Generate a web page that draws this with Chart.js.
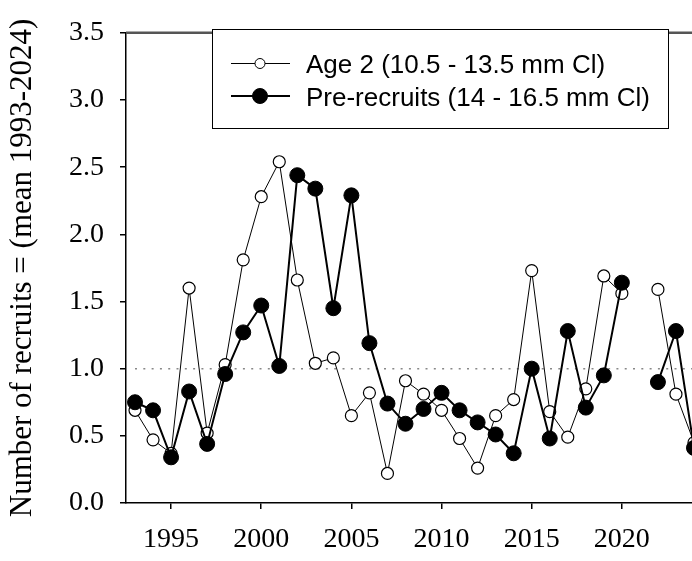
<!DOCTYPE html>
<html>
<head>
<meta charset="utf-8">
<script src="https://cdn.jsdelivr.net/npm/chart.js@4.4.1/dist/chart.umd.min.js"></script>
<style>
  html, body { margin: 0; padding: 0; background: #fff; overflow: hidden; }
  #wrap { width: 692px; height: 561px; overflow: hidden; position: relative; }
  #box { width: 720px; height: 561px; }
</style>
</head>
<body>
<div id="wrap"><div id="box"><canvas id="chart"></canvas></div></div>
<script>
// years 1993-2024, 2021 missing in both series
const years = [1993, 1994, 1995, 1996, 1997, 1998, 1999, 2000, 2001, 2002, 2003,
  2004, 2005, 2006, 2007, 2008, 2009, 2010, 2011, 2012, 2013, 2014, 2015, 2016,
  2017, 2018, 2019, 2020, 2021, 2022, 2023, 2024];

const age2 = [0.69, 0.47, 0.37, 1.60, 0.52, 1.03, 1.81, 2.28, 2.54, 1.66, 1.04,
  1.08, 0.65, 0.82, 0.22, 0.91, 0.81, 0.69, 0.48, 0.26, 0.65, 0.77, 1.73, 0.68,
  0.49, 0.85, 1.69, 1.56, null, 1.59, 0.81, 0.45];

const preRecruits = [0.75, 0.69, 0.34, 0.83, 0.44, 0.96, 1.27, 1.47, 1.02, 2.44, 2.34,
  1.45, 2.29, 1.19, 0.74, 0.59, 0.70, 0.82, 0.69, 0.60, 0.51, 0.37, 1.00, 0.48,
  1.28, 0.71, 0.95, 1.64, null, 0.90, 1.28, 0.41];

const meanLine = 1.0;
const xTicks = [1995, 2000, 2005, 2010, 2015, 2020];
const yTicks = [0, 0.5, 1.0, 1.5, 2.0, 2.5, 3.0, 3.5];

const seriesLabels = ["Age 2 (10.5 - 13.5 mm Cl)", "Pre-recruits (14 - 16.5 mm Cl)"];
const yTitle = "Number of recruits = (mean 1993-2024)";

const X_MIN = 1992.5, X_MAX = 2024.5;
const SERIF = "'Liberation Serif', 'Times New Roman', serif";
const SANS = "'Liberation Sans', Arial, sans-serif";

function toPoints(vals) {
  return years.map((y, i) => ({ x: y, y: vals[i] }));
}

// legend box drawn inside the plot, top right
const legendBox = {
  id: "legendBox",
  afterDraw(chart) {
    const ctx = chart.ctx;
    const area = chart.chartArea;
    ctx.save();
    // top frame line
    ctx.strokeStyle = "#555";
    ctx.lineWidth = 2.5;
    ctx.beginPath();
    ctx.moveTo(area.left, area.top);
    ctx.lineTo(area.right, area.top);
    ctx.stroke();

    const bx = 212, by = 29, bw = 456, bh = 99;
    ctx.strokeStyle = "#000";
    ctx.lineWidth = 1;
    ctx.fillStyle = "#fff";
    ctx.fillRect(bx, by, bw, bh);
    ctx.strokeRect(bx + 0.5, by + 0.5, bw, bh);

    const rows = [
      { ds: chart.data.datasets[0], y: 63.5, r: 5 },
      { ds: chart.data.datasets[1], y: 96, r: 7.5 }
    ];
    rows.forEach(row => {
      ctx.strokeStyle = "#000";
      ctx.lineWidth = row.ds.borderWidth;
      ctx.beginPath();
      ctx.moveTo(231, row.y);
      ctx.lineTo(290, row.y);
      ctx.stroke();
      ctx.beginPath();
      ctx.arc(260, row.y, row.r, 0, Math.PI * 2);
      ctx.fillStyle = row.ds.pointBackgroundColor;
      ctx.fill();
      ctx.lineWidth = 1;
      ctx.stroke();
      ctx.fillStyle = "#000";
      ctx.font = "26px " + SANS;
      ctx.textBaseline = "alphabetic";
      ctx.textAlign = "left";
      ctx.fillText(row.ds.label, 306, row.y + 9.5);
    });
    ctx.restore();
  }
};

new Chart(document.getElementById("chart"), {
  type: "line",
  data: {
    datasets: [
      {
        label: seriesLabels[0],
        data: toPoints(age2),
        borderColor: "#000",
        borderWidth: 1,
        pointRadius: 6,
        pointBackgroundColor: "#fff",
        pointBorderColor: "#000",
        pointBorderWidth: 1.2,
        spanGaps: false,
        order: 1
      },
      {
        label: seriesLabels[1],
        data: toPoints(preRecruits),
        borderColor: "#000",
        borderWidth: 2,
        pointRadius: 7.5,
        pointBackgroundColor: "#000",
        pointBorderColor: "#000",
        pointBorderWidth: 1,
        spanGaps: false,
        order: 0
      },
      {
        label: "mean",
        data: [{ x: 1993, y: meanLine }, { x: X_MAX, y: meanLine }],
        borderColor: "#888",
        borderWidth: 1.5,
        borderDash: [2, 6.3],
        pointRadius: 0,
        order: 2
      }
    ]
  },
  options: {
    responsive: true,
    maintainAspectRatio: false,
    animation: false,
    layout: { padding: { top: 22, right: 17, left: 0, bottom: 0 } },
    plugins: {
      legend: { display: false },
      tooltip: { enabled: false }
    },
    scales: {
      x: {
        type: "linear",
        min: X_MIN,
        max: X_MAX,
        afterBuildTicks: s => { s.ticks = xTicks.map(v => ({ value: v })); },
        afterFit: s => { s.height = 58; },
        ticks: {
          color: "#000",
          font: { family: SERIF, size: 28 },
          padding: 14,
          maxRotation: 0,
          callback: v => String(v)
        },
        grid: { display: true, drawOnChartArea: false, drawTicks: true, tickLength: 6, color: "#000", lineWidth: 1.5 },
        border: { display: true, color: "#000", width: 1.5 }
      },
      y: {
        min: 0,
        max: 3.5,
        afterBuildTicks: s => { s.ticks = yTicks.map(v => ({ value: v })); },
        afterFit: s => { s.width = 126; },
        ticks: {
          color: "#000",
          font: { family: SERIF, size: 28 },
          padding: 16,
          callback: v => v.toFixed(1)
        },
        title: {
          display: true,
          text: yTitle,
          color: "#000",
          font: { family: SERIF, size: 31, weight: "normal" },
          padding: { top: 4, bottom: 0 }
        },
        grid: { display: true, drawOnChartArea: false, drawTicks: true, tickLength: 6, color: "#000", lineWidth: 1.5 },
        border: { display: true, color: "#000", width: 1.5 }
      }
    }
  },
  plugins: [legendBox]
});
</script>
</body>
</html>
